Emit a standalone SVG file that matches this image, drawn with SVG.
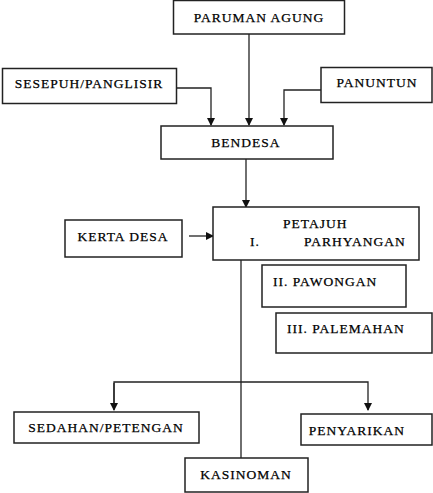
<svg xmlns="http://www.w3.org/2000/svg" width="433" height="493" viewBox="0 0 433 493">
<style>
.box{fill:#fff;stroke:#222;stroke-width:1.5}
.t{font-family:"Liberation Serif","Times New Roman",serif;font-size:13.5px;letter-spacing:1px;fill:#000;stroke:#000;stroke-width:0.25}
.c{text-anchor:middle}
.ln{fill:none;stroke:#222;stroke-width:1.3}
</style>
<defs>
<marker id="ah" markerWidth="8" markerHeight="8" refX="7" refY="4" orient="auto" markerUnits="userSpaceOnUse">
<path d="M0,0 L8,4 L0,8 z" fill="#111"/>
</marker>
</defs>
<rect width="433" height="493" fill="#fff"/>
<g id="connectors">
<path class="ln" d="M249,34 V125" marker-end="url(#ah)"/>
<path class="ln" d="M177,88 H211 V125" marker-end="url(#ah)"/>
<path class="ln" d="M321,90 H284 V125" marker-end="url(#ah)"/>
<path class="ln" d="M246,159 V207" marker-end="url(#ah)"/>
<path class="ln" d="M189,236 H213" marker-end="url(#ah)"/>
<path class="ln" d="M241,260 V458"/>
<path class="ln" d="M114,409 V382 H368 V410" marker-end="url(#ah)"/>
<path class="ln" d="M114,383 V410" marker-end="url(#ah)"/>
</g>
<g id="paruman-agung">
<rect class="box" x="173.5" y="0.5" width="171" height="33.5"/>
<text class="t c" x="259" y="22">PARUMAN AGUNG</text>
</g>
<g id="sesepuh">
<rect class="box" x="2.5" y="68.5" width="174" height="35"/>
<text class="t c" x="89" y="88">SESEPUH/PANGLISIR</text>
</g>
<g id="panuntun">
<rect class="box" x="321" y="67.5" width="111" height="35"/>
<text class="t c" x="377" y="87">PANUNTUN</text>
</g>
<g id="bendesa">
<rect class="box" x="161" y="126" width="172" height="33"/>
<text class="t c" x="246" y="147">BENDESA</text>
</g>
<g id="kerta-desa">
<rect class="box" x="65" y="220" width="117" height="37"/>
<text class="t c" x="123" y="241">KERTA DESA</text>
</g>
<g id="petajuh">
<rect class="box" x="213" y="207" width="206" height="53"/>
<text class="t" x="283" y="228">PETAJUH</text>
<text class="t" x="250" y="246">I.</text>
<text class="t" x="304" y="246">PARHYANGAN</text>
</g>
<g id="pawongan">
<rect class="box" x="262" y="265" width="144" height="42"/>
<text class="t" x="273" y="286">II. PAWONGAN</text>
</g>
<g id="palemahan">
<rect class="box" x="276" y="313" width="156" height="40"/>
<text class="t" x="287" y="333">III. PALEMAHAN</text>
</g>
<g id="sedahan">
<rect class="box" x="14" y="412" width="185" height="31"/>
<text class="t c" x="106" y="432">SEDAHAN/PETENGAN</text>
</g>
<g id="penyarikan">
<rect class="box" x="301" y="414" width="131" height="31"/>
<text class="t c" x="357" y="435">PENYARIKAN</text>
</g>
<g id="kasinoman">
<rect class="box" x="185" y="458" width="123" height="34"/>
<text class="t c" x="246" y="479">KASINOMAN</text>
</g>
</svg>
